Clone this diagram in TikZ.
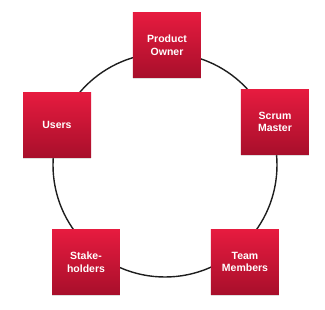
\documentclass[tikz,border=0pt]{standalone}
\usepackage{fontspec}
\setmainfont{Liberation Sans}
\usetikzlibrary{shadows}
\definecolor{redtop}{HTML}{E61B3F}
\definecolor{redmid}{HTML}{D8183A}
\definecolor{redbot}{HTML}{A80F2B}
\definecolor{ring}{HTML}{1E1E1E}
\tikzset{
  role/.style={top color=redtop,middle color=redmid,bottom color=redbot,draw=none,text=white,
    minimum width=68pt,minimum height=65pt,align=center,
    font=\fontsize{10.5}{12.5}\selectfont\bfseries,
    drop shadow={opacity=.25,shadow xshift=0pt,shadow yshift=-1.5pt}},
}

\begin{document}
\begin{tikzpicture}[x=1pt,y=-1pt]
  \useasboundingbox (0,0) rectangle (325,310);
  \coordinate (c) at (165,165);
  \draw[ring,line width=1.4pt] (c) circle[radius=112pt];
  \node[role] (po) at (167,45){Product\\Owner};
  \node[role] (sm) at (275,122){Scrum\\Master};
  \node[role] (us) at (57,125){Users};
  \node[role] (sh) at (86,262){Stake-\\holders};
  \node[role] (tm) at (245,262){Team\\Members};
\end{tikzpicture}
\end{document}
